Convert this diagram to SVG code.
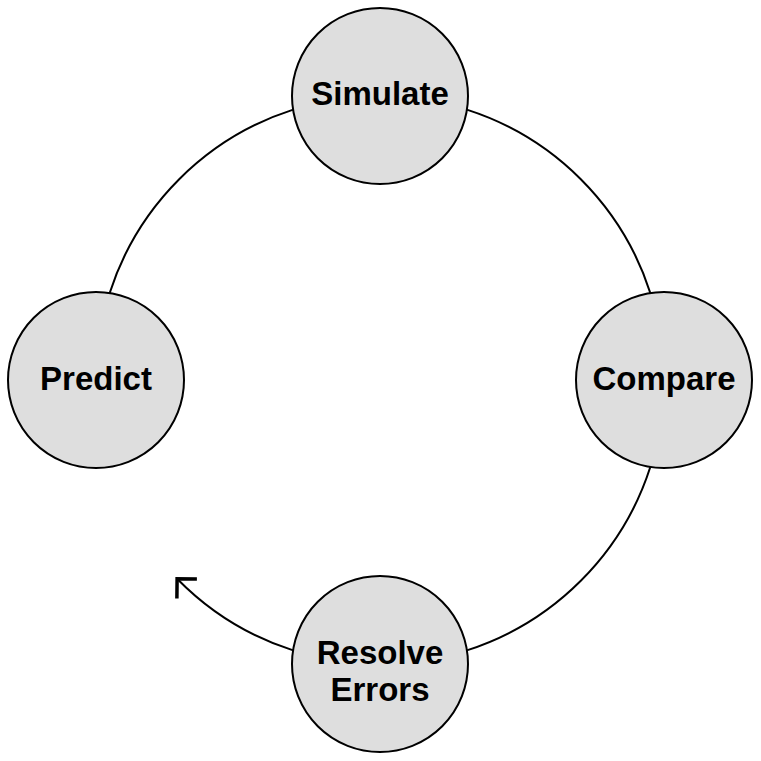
<svg xmlns="http://www.w3.org/2000/svg" width="761" height="761" viewBox="0 0 761 761">
<defs>
<style>
.node circle{fill:#dedede;stroke:#000;stroke-width:2}
.node text{font-family:"Liberation Sans",Arial,Helvetica,sans-serif;font-weight:bold;font-size:33px;fill:#000;text-anchor:middle}
.conn path{fill:none;stroke:#000;stroke-width:2}
</style>
<marker id="arrow" markerUnits="userSpaceOnUse" viewBox="-20 -20 30 40" markerWidth="30" markerHeight="40" refX="0" refY="0" orient="auto">
<path d="M -14 -14 L 0 0 L -14 14" fill="none" stroke="#000" stroke-width="3.5" stroke-linejoin="miter"/>
</marker>
</defs>
<rect width="761" height="761" fill="#fff"/>
<g id="connectors" class="conn">
<path d="M 109.6 293.2 A 284 284 0 0 1 293.2 109.6"/>
<path d="M 466.8 109.6 A 284 284 0 0 1 650.4 293.2"/>
<path d="M 650.4 466.8 A 284 284 0 0 1 466.8 650.4"/>
<path d="M 293.2 650.4 A 284 284 0 0 1 177.1 578.7" marker-end="url(#arrow)"/>
</g>
<g id="simulate" class="node">
<circle cx="380" cy="96" r="88"/>
<text x="380" y="105">Simulate</text>
</g>
<g id="compare" class="node">
<circle cx="664" cy="380" r="88"/>
<text x="664" y="390">Compare</text>
</g>
<g id="resolve" class="node">
<circle cx="380" cy="664" r="88"/>
<text x="380" y="664">Resolve</text>
<text x="380" y="701">Errors</text>
</g>
<g id="predict" class="node">
<circle cx="96" cy="380" r="88"/>
<text x="96" y="390">Predict</text>
</g>
</svg>
